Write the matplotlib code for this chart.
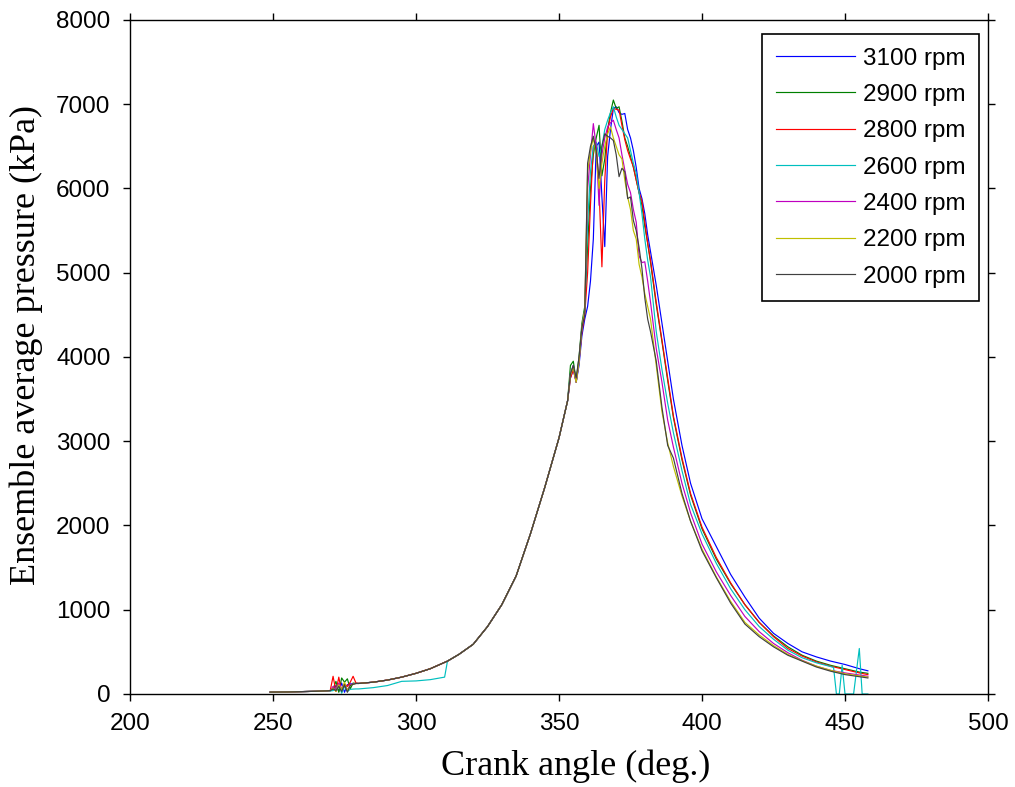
import matplotlib
matplotlib.use('Agg')
import matplotlib.pyplot as plt

# Crank angle grids (deg.)
angle_early = [249, 255, 260, 265, 269]
angle_spike = [270, 271, 272, 273, 274, 275, 276, 277, 278, 279]
angle_comp = [280, 285, 290, 295, 300, 305, 310, 311, 315, 320, 325, 330,
              335, 340, 345, 350, 353]
angle_peak = [354, 355, 356, 357, 358, 359, 360, 361, 362, 363, 364, 365,
              366, 367, 368, 369, 370, 371, 372, 373, 374, 375, 376, 377,
              378, 379, 380, 381, 382]
angle_exp = [384, 386, 388, 390, 393, 396, 400, 405, 410, 415, 420, 425,
             430, 435, 440, 445, 450, 455, 458]
angle_exp_2600 = [384, 386, 388, 390, 393, 396, 400, 405, 410, 415, 420, 425,
                  430, 435, 440, 445, 446, 447, 448, 449, 450, 451, 453, 455,
                  456, 458]

# Shared parts of the pressure traces (kPa)
p_early = [22, 24, 28, 32, 38]
p_comp = [125, 140, 165, 200, 245, 300, 375, 390, 470, 590, 800, 1060,
          1400, 1900, 2450, 3040, 3480]
p_comp_2600 = [60, 75, 100, 150, 155, 170, 200, 390, 470, 590, 800, 1060,
               1400, 1900, 2450, 3040, 3480]

# 3100 rpm
spike_3100 = [40, 50, 100, 30, 130, 20, 110, 120, 120, 125]
peak_3100 = [3750, 3850, 3700, 3900, 4250, 4450, 4600, 4900, 5400, 6500,
             6550, 5900, 5310, 6380, 6700, 6950, 6970, 6900, 6880, 6890,
             6700, 6600, 6450, 6250, 6000, 5880, 5700, 5450, 5250]
tail_3100 = [4850, 4400, 3950, 3500, 2950, 2500, 2080, 1750, 1420, 1150,
             900, 720, 600, 500, 440, 390, 350, 300, 275]

# 2900 rpm
spike_2900 = [40, 60, 150, 20, 190, 140, 180, 60, 130, 125]
peak_2900 = [3900, 3950, 3720, 4000, 4400, 4600, 5300, 6000, 6400, 6600,
             6750, 6150, 6350, 6700, 6900, 7050, 6950, 6970, 6800, 6600,
             6500, 6380, 6250, 6100, 5950, 5800, 5550, 5350, 5120]
tail_2900 = [4620, 4180, 3720, 3280, 2780, 2360, 1960, 1600, 1310, 1060,
             850, 690, 560, 460, 390, 340, 300, 260, 245]

# 2800 rpm
spike_2800 = [40, 210, 30, 200, 20, 120, 90, 140, 210, 130]
peak_2800 = [3750, 3850, 3700, 3950, 4300, 4500, 5000, 5800, 6500, 6550,
             6000, 5070, 6100, 6690, 6850, 6950, 6940, 6930, 6750, 6580,
             6450, 6350, 6260, 6100, 5950, 5850, 5600, 5350, 5150]
tail_2800 = [4650, 4200, 3750, 3300, 2800, 2380, 1980, 1620, 1320, 1060,
             850, 680, 540, 450, 380, 330, 290, 250, 230]

# 2600 rpm
spike_2600 = [35, 40, 60, 120, 10, 90, 30, 55, 58, 60]
peak_2600 = [3800, 3900, 3700, 3950, 4350, 4550, 5600, 6200, 6500, 6550,
             6380, 6500, 6700, 6810, 6900, 6970, 6850, 6750, 6700, 6650,
             6600, 6450, 6300, 6180, 5950, 5700, 5400, 5150, 4950]
tail_2600 = [4300, 3850, 3450, 3100, 2650, 2250, 1900, 1550, 1250, 1000,
             800, 650, 520, 430, 370, 325, 315, 0, 0, 340, 0, 0, 0, 540,
             0, 0]

# 2400 rpm
spike_2400 = [40, 90, 40, 130, 60, 100, 50, 110, 120, 125]
peak_2400 = [3800, 3900, 3700, 3950, 4350, 4550, 6000, 6400, 6770, 6500,
             5800, 6400, 6600, 6730, 6780, 6810, 6700, 6600, 6400, 6220,
             6050, 5950, 5750, 5600, 5200, 5120, 5130, 4900, 4650]
tail_2400 = [4100, 3700, 3250, 2930, 2500, 2150, 1780, 1450, 1170, 920,
             740, 600, 490, 400, 330, 280, 250, 225, 210]

# 2200 rpm
spike_2200 = [40, 70, 30, 110, 50, 140, 40, 100, 115, 125]
peak_2200 = [3780, 3880, 3700, 3950, 4350, 4550, 6200, 6450, 6600, 6400,
             6000, 6300, 6500, 6650, 6730, 6600, 6500, 6400, 6350, 6100,
             5900, 5750, 5500, 5400, 5100, 4950, 4750, 4600, 4450]
tail_2200 = [3900, 3350, 2980, 2700, 2350, 2050, 1720, 1390, 1100, 850,
             700, 575, 470, 395, 330, 280, 240, 215, 200]

# 2000 rpm
spike_2000 = [40, 60, 40, 90, 30, 110, 20, 100, 115, 125]
peak_2000 = [3800, 3900, 3750, 4000, 4350, 4500, 6300, 6500, 6620, 6450,
             6120, 6500, 6650, 6620, 6600, 6570, 6400, 6140, 6240, 6200,
             5880, 5900, 5620, 5500, 5300, 5050, 4700, 4450, 4300]
tail_2000 = [3950, 3400, 2950, 2800, 2380, 2050, 1700, 1380, 1080, 830,
             680, 560, 460, 390, 320, 270, 230, 205, 190]

labels = ['3100 rpm', '2900 rpm', '2800 rpm', '2600 rpm',
          '2400 rpm', '2200 rpm', '2000 rpm']
colors = ['#0000ff', '#008000', '#ff0000', '#00bfbf',
          '#bf00bf', '#bfbf00', '#404040']
spikes = [spike_3100, spike_2900, spike_2800, spike_2600,
          spike_2400, spike_2200, spike_2000]
peaks = [peak_3100, peak_2900, peak_2800, peak_2600,
         peak_2400, peak_2200, peak_2000]
tails = [tail_3100, tail_2900, tail_2800, tail_2600,
         tail_2400, tail_2200, tail_2000]


def main():
    fig = plt.figure(figsize=(10.15, 7.87), dpi=100)
    ax = fig.add_axes([0.1281, 0.1182, 0.8453, 0.8564])

    for lab, col, sp, pk, tl in zip(labels, colors, spikes, peaks, tails):
        if lab == '2600 rpm':
            x = angle_early + angle_spike + angle_comp + angle_peak + angle_exp_2600
            y = p_early + sp + p_comp_2600 + pk + tl
        else:
            x = angle_early + angle_spike + angle_comp + angle_peak + angle_exp
            y = p_early + sp + p_comp + pk + tl
        ax.plot(x, y, color=col, lw=0.85, label=lab)

    ax.set_xlim(200, 500)
    ax.set_ylim(0, 8000)
    ax.set_xticks(range(200, 501, 50))
    ax.set_yticks(range(0, 8001, 1000))
    ax.tick_params(direction='out', length=5, width=1, pad=9,
                   top=True, right=True, labelsize=17.5)
    for lbl in ax.get_xticklabels() + ax.get_yticklabels():
        lbl.set_family('Liberation Sans')
    for s in ax.spines.values():
        s.set_linewidth(1.0)

    ax.set_xlabel('Crank angle (deg.)', family='Liberation Serif', fontsize=26)
    ax.set_ylabel('Ensemble average pressure (kPa)', family='Liberation Serif',
                  fontsize=26)
    ax.xaxis.set_label_coords(0.52, -0.083)
    ax.yaxis.set_label_coords(-0.101, 0.518)

    leg = ax.legend(loc='upper right', bbox_to_anchor=(0.9895, 0.979),
                    borderaxespad=0, fancybox=False, framealpha=1,
                    edgecolor='black', handlelength=3.25, handletextpad=0.33,
                    labelspacing=0.59, borderpad=0.55,
                    prop={'family': 'Liberation Sans', 'size': 17.5})
    leg.get_frame().set_linewidth(1.2)

    fig.savefig('out.png', dpi=100)


if __name__ == '__main__':
    main()
